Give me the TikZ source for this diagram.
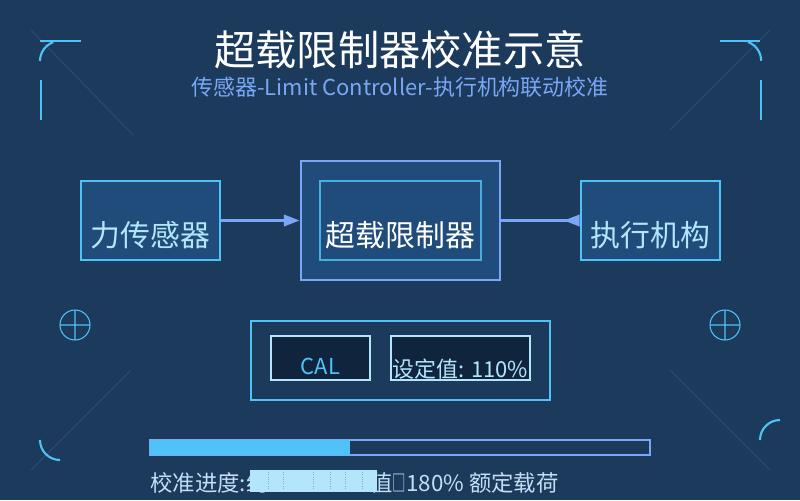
\documentclass[tikz,border=0pt]{standalone}
\usepackage{fontspec}
\setmainfont{Noto Sans CJK SC}
\usepackage{tikz}
\usetikzlibrary{arrows.meta}

\definecolor{bg}{RGB}{27,58,92}
\definecolor{boxbg}{RGB}{31,76,122}
\definecolor{sky}{RGB}{79,195,247}
\definecolor{peri}{RGB}{122,167,245}
\definecolor{pale}{RGB}{179,229,252}
\definecolor{deep}{RGB}{16,36,62}
\definecolor{faint}{RGB}{40,76,114}
\definecolor{dimtxt}{RGB}{196,222,244}
\definecolor{teal}{RGB}{72,176,222}

\begin{document}
\begin{tikzpicture}[x=0.02cm, y=-0.02cm, node distance=5cm, inner sep=0pt]
    \tikzstyle{unit}=[rectangle, fill=boxbg, draw=sky, line width=1.5pt, text=pale, font=\fontsize{17}{20}\selectfont, minimum width=2.78cm, text height=1.32cm, text depth=0.26cm]
    \tikzstyle{frame}=[rectangle, fill=boxbg, draw=peri, line width=1.6pt, minimum width=3.98cm, minimum height=2.38cm]
    \tikzstyle{core}=[rectangle, draw=teal, line width=0.6pt, text=white, font=\fontsize{17}{20}\selectfont, minimum width=3.22cm, text height=1.32cm, text depth=0.26cm]
    \tikzstyle{panel}=[rectangle, draw=sky, line width=1.1pt, minimum width=5.98cm, minimum height=1.58cm]
    \tikzstyle{btn}=[rectangle, fill=deep, draw=pale, line width=1.1pt, font=\fontsize{12.5}{15}\selectfont]
    \tikzstyle{link}=[->, draw=peri, line width=1.4pt, >={Triangle[length=9pt,width=6.5pt]}]
    \tikzstyle{linkback}=[-{Triangle[reversed,length=9pt,width=6.5pt]}, draw=peri, line width=1.4pt]
    \tikzstyle{corner}=[draw=sky, line width=1.2pt]
    \tikzstyle{ray}=[draw=faint, line width=0.6pt]
    \tikzstyle{cross}=[draw=sky, line width=0.6pt]

    \path[use as bounding box, fill=bg] (0,0) rectangle (800,500);

    % frame corners
    \draw[ray] (31,30) -- (133,135);
    \draw[ray] (770,30) -- (670,130);
    \draw[ray] (131,370) -- (31,470);
    \draw[ray] (670,370) -- (770,470);
    \draw[corner] (40,41) -- (81,41);
    \draw[corner] (40,61) arc[start angle=180, end angle=250, radius=20];
    \draw[corner] (41,80) -- (41,120);
    \draw[corner] (720,41) -- (760,41);
    \draw[corner] (748,42) arc[start angle=290, end angle=360, radius=20];
    \draw[corner] (761,80) -- (761,120);
    \draw[corner] (40,440) arc[start angle=180, end angle=90, radius=20];
    \draw[corner] (780,420) arc[start angle=270, end angle=180, radius=20];
    \draw[cross] (75,325) circle[radius=15] (60,325) -- (90,325) (75,310) -- (75,340);
    \draw[cross] (725,325) circle[radius=15] (710,325) -- (740,325) (725,310) -- (725,340);

    \node[text=white, font=\fontsize{23.5}{28}\selectfont] (title) at (400,50) {超载限制器校准示意};
    \node[text=peri, font=\fontsize{12.5}{15}\selectfont] (sub) at (400,87) {传感器-Limit Controller-执行机构联动校准};

    \node[frame] (Lim) at (400.5,220.5) {};
    \node[core] (LimIn) at (Lim.center) {超载限制器};
    \node[unit] (Sen) [left of=Lim] {力传感器};
    \node[unit] (Act) [right of=Lim] {执行机构};

    \draw[link] (Sen) -- (Lim);
    \draw[linkback] (Lim) -- (Act);

    \node[panel] (Pnl) [below of=Lim, node distance=2.8cm] {};
    \node[btn, text=sky, minimum width=1.98cm, text height=0.76cm, text depth=0.12cm] (Cal) at (320.5,358) {CAL};
    \node[btn, text=pale, minimum width=2.78cm, text height=0.82cm, text depth=0.06cm] (Set) at (460.5,358) {设定值: 110\%};

    % progress bar
    \draw[draw=peri, line width=0.6pt, fill=bg] (150,440) rectangle (650,455);
    \fill[sky] (150,440) rectangle (350,455);

    \node[anchor=base west, text=dimtxt, font=\fontsize{12.75}{15}\selectfont] (prog) at (150,491) {校准进度:约};
    \node[anchor=base west, text=dimtxt, font=\fontsize{12.75}{15}\selectfont] (rate) at (370,491) {值\scalebox{0.6}[1]{□}180\% 额定载荷};
    \fill[pale] (250,470) rectangle (377,492);
    \foreach \x in {268,283,313,330,345,362}
        \draw[draw=pale!75!black, line width=0.3pt, densely dotted] (\x,472) -- (\x,490);
\end{tikzpicture}
\end{document}
